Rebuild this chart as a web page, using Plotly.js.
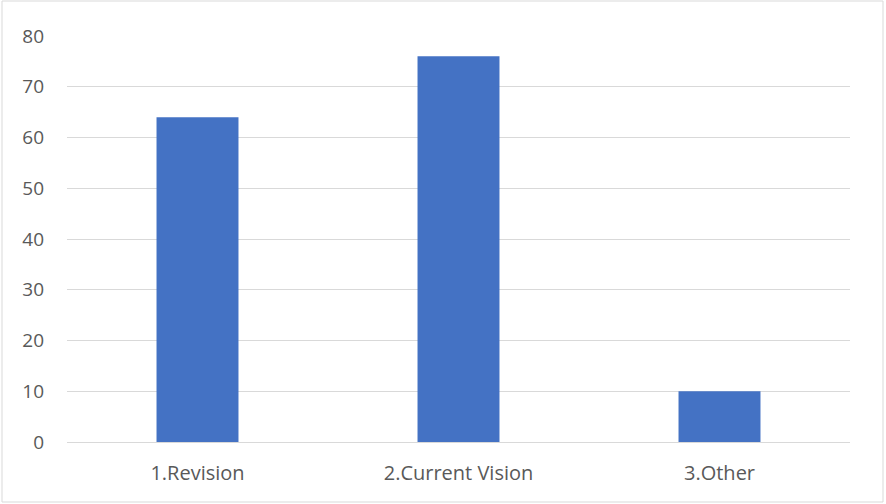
<!DOCTYPE html>
<html>
<head>
<meta charset="utf-8">
<script src="https://cdn.plot.ly/plotly-3.0.1.min.js"></script>
<style>
html,body{margin:0;padding:0;background:#fff;}
#chart{width:886px;height:504px;}
</style>
</head>
<body>
<div id="chart"></div>
<script>
const categories = ["1.Revision", "2.Current Vision", "3.Other"];
const values = [64, 76, 10];
const yTicks = [0, 10, 20, 30, 40, 50, 60, 70, 80];

const trace = {
  type: "bar",
  x: categories,
  y: values,
  marker: {color: "#4472C4", line: {width: 0}},
  hoverinfo: "x+y"
};

const layout = {
  width: 886,
  height: 504,
  margin: {l: 67, r: 36, t: 36, b: 62},
  paper_bgcolor: "#ffffff",
  plot_bgcolor: "#ffffff",
  bargap: 0.686,
  showlegend: false,
  font: {family: "Open Sans, Liberation Sans, sans-serif", color: "#595959", size: 19},
  xaxis: {
    type: "category",
    showgrid: false,
    showline: true,
    linecolor: "#d9d9d9",
    linewidth: 1,
    ticks: "",
    ticklabelstandoff: 13,
    tickfont: {size: 20, color: "#595959"},
    zeroline: false
  },
  yaxis: {
    range: [0, 80],
    tickvals: yTicks,
    ticktext: yTicks.map(String),
    showgrid: true,
    gridcolor: "#d9d9d9",
    gridwidth: 1,
    zeroline: false,
    showline: false,
    ticks: "",
    ticklabelstandoff: 22,
    tickfont: {size: 19, color: "#595959"}
  },
  shapes: [{
    type: "rect", xref: "paper", yref: "paper",
    x0: -65/783, x1: 1 + 33/783, y0: -60/406, y1: 1 + 35/406,
    line: {color: "#d9d9d9", width: 1}, fillcolor: "rgba(0,0,0,0)"
  }]
};

Plotly.newPlot("chart", [trace], layout, {displayModeBar: false, staticPlot: true});
</script>
</body>
</html>
